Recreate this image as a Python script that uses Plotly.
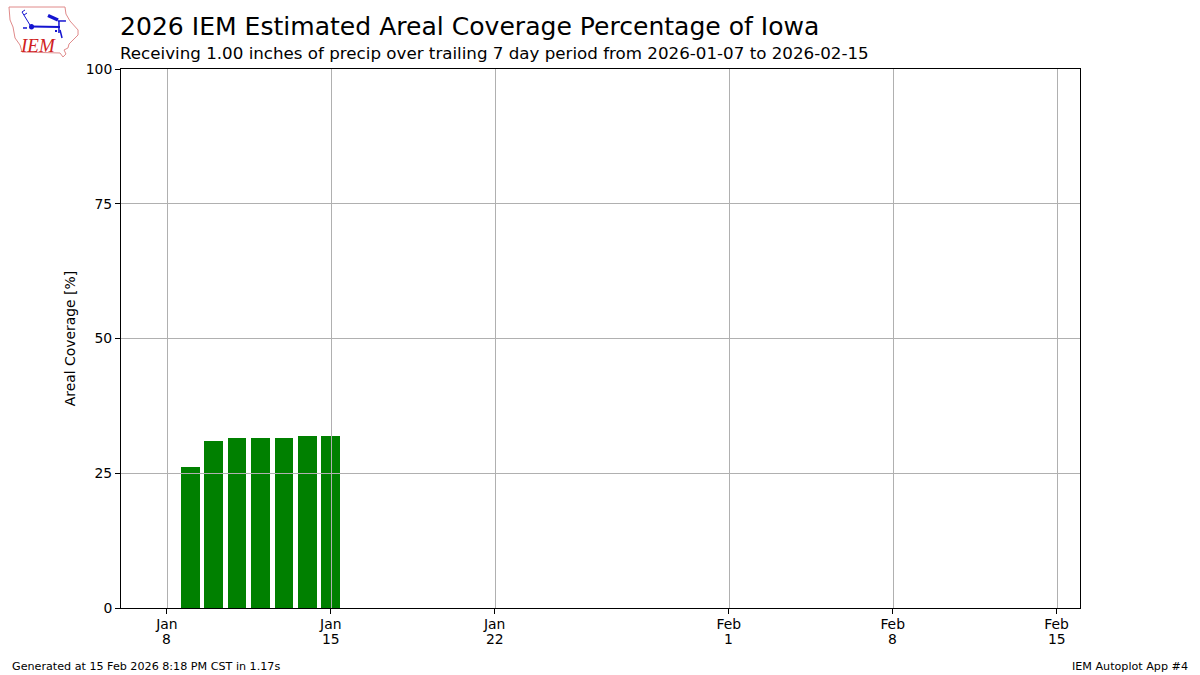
from datetime import date

import plotly.graph_objects as go

# ---- data -------------------------------------------------------------
dates = ["2026-01-%02d" % d for d in range(7, 32)] + ["2026-02-%02d" % d for d in range(1, 16)]
coverage = [0.0, 0.0, 26.1, 30.9, 31.5, 31.5, 31.5, 31.9, 31.9] + [0.0] * 31
x_tick_dates = ["2026-01-08", "2026-01-15", "2026-01-22", "2026-02-01", "2026-02-08", "2026-02-15"]
x_tick_months = ["Jan", "Jan", "Jan", "Feb", "Feb", "Feb"]
x_tick_days = ["8", "15", "22", "1", "8", "15"]
y_ticks = [0, 25, 50, 75, 100]
title = "2026 IEM Estimated Areal Coverage Percentage of Iowa"
subtitle = "Receiving 1.00 inches of precip over trailing 7 day period from 2026-01-07 to 2026-02-15"
y_title = "Areal Coverage [%]"
foot_left = "Generated at 15 Feb 2026 8:18 PM CST in 1.17s"
foot_right = "IEM Autoplot App #4"

# ---- layout constants --------------------------------------------------
W, H = 1200, 675
L, R, T, B = 121, 1080, 69, 608   # inner plot area; spines sit just outside it
FONT = "DejaVu Sans"
GRID = "#b0b0b0"
DAY_MS = 86400000
X_START = date(2026, 1, 6)
PX_PER_DAY = 960 / 41
PX_PER_PCT = 5.4


def px(x):
    return (x - L) / (R - L)


def py(y):
    return (B - y) / (B - T)


def path(points, close=False):
    s = "M " + " L ".join("%.4f %.4f" % (px(x), py(y)) for x, y in points)
    return s + (" Z" if close else "")


fig = go.Figure()
fig.add_bar(x=dates, y=coverage, width=0.8 * DAY_MS, marker=dict(color="#008000", line=dict(width=0)))

# grid lines sit above the bars in the reference; snapped to whole pixels
shapes = []
for d in x_tick_dates:
    offset = (date.fromisoformat(d) - X_START).days * PX_PER_DAY
    xp = round(120 + offset) + 0.5
    shapes.append(dict(type="line", xref="paper", yref="paper", x0=px(xp), x1=px(xp), y0=0, y1=1,
                       line=dict(color=GRID, width=1), layer="above"))
for v in y_ticks[1:-1]:
    yp = B - v * PX_PER_PCT + 0.5
    shapes.append(dict(type="line", xref="paper", yref="paper", x0=0, x1=1, y0=py(yp), y1=py(yp),
                       line=dict(color=GRID, width=1), layer="above"))

outline = [(9, 7), (65, 7), (66, 14), (70, 21), (78, 30), (78, 35), (72, 41), (69, 44), (68, 48),
           (64, 50), (66, 54), (63, 57), (60, 53), (22, 52), (20, 45), (15, 38), (13, 27), (10, 20)]
shapes.append(dict(type="path", xref="paper", yref="paper", path=path(outline, True),
                   line=dict(color="#e08a8a", width=1), layer="above"))
BLUE = "#1414d0"
strokes = [
    ([(31, 26.5), (60, 27)], 2), ([(59, 21), (59, 33)], 1.5), ([(58, 21), (66, 21)], 1.5),
    ([(48, 15.5), (58, 20)], 3.5), ([(22, 12), (30, 25)], 1), ([(22, 12), (25, 10)], 1),
    ([(24, 15), (27, 13)], 1), ([(60, 30), (62, 38)], 1.5), ([(55, 31), (57, 31)], 2),
    ([(23, 28), (27, 28)], 1.5),
]
for pts, w in strokes:
    shapes.append(dict(type="path", xref="paper", yref="paper", path=path(pts),
                       line=dict(color=BLUE, width=w), layer="above"))
shapes.append(dict(type="circle", xref="paper", yref="paper", x0=px(29), x1=px(34), y0=py(29.5), y1=py(24),
                   fillcolor=BLUE, line=dict(color=BLUE, width=0), layer="above"))
fig.update_layout(shapes=shapes)


def note(x, y, text, size, xanchor="left", yanchor="middle", color="black", family=FONT, **kw):
    fig.add_annotation(x=px(x), y=py(y), xref="paper", yref="paper", text=text, showarrow=False,
                       xanchor=xanchor, yanchor=yanchor, borderpad=0, borderwidth=0,
                       font=dict(size=size, color=color, family=family), **kw)


note(120, 27, title, 25.07)
note(120, 53, subtitle, 16.7)
note(12, 666.5, foot_left, 11.15)
note(1188, 666.5, foot_right, 11.15, xanchor="right")
note(20, 45.5, "<i>IEM</i>", 19, color="#d02020", family="Liberation Serif")

# day numbers form the second line of each x tick label
for d, day in zip(x_tick_dates, x_tick_days):
    fig.add_annotation(x=d, xref="x", y=py(639), yref="paper", text=day, showarrow=False,
                       yanchor="middle", borderpad=0, font=dict(size=13.9, color="black", family=FONT))

axis_common = dict(showline=True, linecolor="black", linewidth=1, mirror=True, ticks="outside",
                   ticklen=5, tickwidth=1, tickcolor="black", showgrid=False, zeroline=False,
                   tickfont=dict(size=13.9, color="black", family=FONT), layer="above traces")
fig.update_xaxes(type="date", range=["2026-01-06 01:01", "2026-02-16"], tickmode="array",
                 tickvals=x_tick_dates, ticktext=x_tick_months,
                 ticklabelstandoff=-2, **axis_common)
fig.update_yaxes(range=[0, 100], tickmode="array", tickvals=y_ticks, ticktext=[str(v) for v in y_ticks],
                 title=dict(text=y_title, font=dict(size=13.9, color="black", family=FONT), standoff=6),
                 **axis_common)
fig.update_layout(width=W, height=H, autosize=False, showlegend=False, bargap=0,
                  plot_bgcolor="white", paper_bgcolor="white", font=dict(family=FONT, color="black"),
                  margin=dict(l=L, r=W - R, t=T, b=H - B, pad=0))

fig.write_html("out.html", config={"displayModeBar": False},
               post_script="document.body.style.margin='0';")
